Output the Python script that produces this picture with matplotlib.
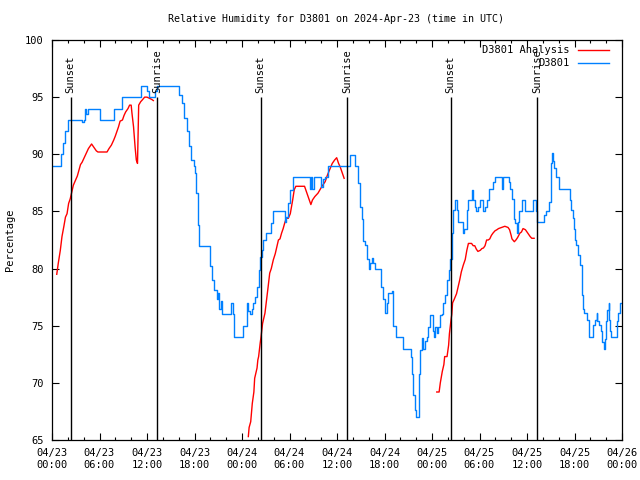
import numpy as np
import pandas as pd
import matplotlib
matplotlib.use("Agg")
import matplotlib.pyplot as plt
import matplotlib.dates as mdates

plt.rcParams['font.family'] = ['DejaVu Sans Mono']

start = pd.Timestamp("2024-04-23 00:00")

# observed RH at D3801, (hours since 04/23 00:00, percent)
obs_hours = [0.0, 0.9, 1.1, 1.4, 1.7, 2.0, 3.5, 3.8, 4.0, 4.2, 4.3, 4.5, 5.8, 6.0, 7.6, 7.8,
             8.6, 8.8, 11.1, 11.3, 11.8, 12.0, 12.2, 12.8, 13.0, 13.2, 15.8, 16.0, 16.4, 16.7,
             17.0, 17.3, 17.6, 17.9, 18.1, 18.2, 18.4, 18.6, 19.7, 20.0, 20.2, 20.5, 20.8, 21.0,
             21.1, 21.3, 21.5, 22.4, 22.6, 22.8, 23.0, 24.0, 24.1, 24.4, 24.6, 24.8, 25.0, 25.2,
             25.4, 25.6, 25.9, 26.1, 26.3, 26.5, 26.7, 27.0, 27.5, 27.7, 27.9, 29.2, 29.4, 29.6,
             29.8, 30.1, 30.5, 32.4, 32.6, 32.7, 32.9, 33.1, 33.8, 34.0, 34.2, 34.5, 34.9, 37.4,
             37.6, 38.0, 38.3, 38.7, 38.9, 39.1, 39.3, 39.5, 39.8, 40.0, 40.2, 40.4, 40.6, 40.8,
             41.4, 41.6, 41.8, 42.1, 42.3, 42.5, 42.9, 43.1, 43.5, 44.2, 44.3, 45.2, 45.4, 45.5,
             45.6, 45.9, 46.0, 46.2, 46.3, 46.4, 46.5, 46.7, 46.9, 47.1, 47.4, 47.5, 47.7, 48.0,
             48.1, 48.2, 48.4, 48.6, 48.8, 49.0, 49.2, 49.4, 49.6, 49.9, 50.1, 50.3, 50.5, 50.7,
             50.9, 51.1, 51.3, 51.7, 51.9, 52.1, 52.4, 52.6, 53.0, 53.2, 53.4, 53.6, 53.8, 54.1,
             54.3, 54.5, 54.7, 55.0, 55.2, 55.4, 55.7, 55.9, 56.6, 56.8, 57.0, 57.6, 57.7, 57.9,
             58.1, 58.3, 58.5, 58.7, 58.8, 59.0, 59.2, 59.4, 59.6, 59.7, 60.6, 60.7, 61.0, 61.1,
             61.2, 62.1, 62.2, 62.4, 62.7, 62.8, 63.0, 63.05, 63.1, 63.25, 63.4, 63.6, 63.7, 63.9,
             64.0, 65.2, 65.4, 65.6, 65.8, 65.9, 66.1, 66.2, 66.4, 66.5, 66.7, 66.9, 67.0, 67.1,
             67.2, 67.5, 67.6, 67.8, 68.3, 68.4, 68.6, 68.8, 68.9, 69.1, 69.3, 69.5, 69.7, 69.8,
             70.0, 70.1, 70.3, 70.4, 70.5, 70.6, 71.3, 71.4, 71.5, 71.7, 72.0]
obs_rh = [89.0, 89.0, 90.0, 91.0, 92.0, 93.0, 93.0, 92.8, 93.0, 94.0, 93.5, 94.0, 94.0, 93.0, 93.0, 94.0,
          94.0, 95.0, 95.0, 96.0, 96.0, 95.5, 95.0, 95.0, 95.5, 96.0, 96.0, 95.2, 94.5, 93.2,
          92.0, 90.7, 89.5, 89.0, 88.4, 86.6, 83.8, 82.0, 82.0, 80.2, 79.0, 78.1, 77.3, 77.9,
          76.5, 77.2, 76.0, 76.0, 77.0, 76.0, 74.0, 74.0, 75.0, 75.0, 77.0, 76.3, 76.0, 76.5,
          77.0, 77.5, 78.4, 79.9, 81.0, 81.6, 82.5, 83.1, 83.1, 84.0, 85.0, 85.0, 84.1, 84.5,
          85.7, 86.9, 88.0, 88.0, 87.0, 88.0, 87.0, 88.0, 88.0, 87.1, 87.8, 88.0, 89.0, 89.0,
          89.9, 89.9, 89.0, 87.5, 85.4, 84.3, 82.4, 82.1, 80.8, 80.0, 80.5, 80.9, 80.5, 80.0,
          80.0, 78.4, 77.3, 76.1, 77.0, 77.9, 78.0, 75.0, 74.0, 74.0, 73.0, 73.0, 72.3, 70.8,
          68.9, 67.6, 67.0, 67.0, 68.9, 70.8, 72.9, 73.9, 73.0, 73.7, 74.0, 74.9, 75.9, 75.9,
          74.5, 74.0, 74.9, 74.4, 74.9, 75.9, 76.0, 77.0, 77.7, 79.0, 79.9, 80.8, 83.1, 85.1,
          86.0, 85.1, 84.1, 84.1, 83.1, 83.5, 85.1, 86.0, 86.9, 86.0, 85.4, 85.0, 85.4, 86.0,
          86.0, 85.0, 85.4, 86.0, 87.0, 87.0, 87.6, 88.0, 88.0, 87.0, 88.0, 88.0, 87.6, 87.0,
          86.1, 84.3, 84.0, 83.1, 84.1, 85.0, 85.0, 86.0, 86.0, 85.0, 85.0, 86.0, 86.0, 85.0,
          84.1, 84.1, 84.7, 85.0, 85.0, 85.8, 87.6, 89.2, 90.1, 89.4, 88.8, 88.4, 88.0, 88.0,
          87.0, 87.0, 86.0, 85.1, 84.4, 83.5, 82.5, 82.1, 82.1, 81.2, 80.3, 78.7, 77.7, 76.5,
          76.1, 76.1, 75.5, 74.0, 74.0, 75.1, 75.5, 76.1, 75.4, 75.1, 74.5, 73.6, 73.0, 73.8,
          75.4, 76.4, 77.0, 75.5, 74.5, 74.0, 74.0, 75.4, 76.1, 77.0, 77.0]

# analysis RH, three night-time runs
ana_hours_1 = [0.6, 0.8, 1.05, 1.26, 1.5, 1.7, 1.9, 2.1, 2.3, 2.5, 2.7, 2.95, 3.2, 3.4, 3.6, 3.8,
               4.0, 4.2, 4.4, 4.6, 5.0, 5.3, 5.6, 5.8, 6.95, 7.2, 7.5, 7.8, 8.0, 8.2, 8.4, 8.6,
               8.9, 9.1, 9.3, 9.6, 9.8, 10.0, 10.1, 10.3, 10.5, 10.65, 10.8, 10.95, 11.2, 11.4,
               11.7, 12.0, 12.3, 12.6, 12.8]
ana_rh_1 = [79.5, 80.5, 81.6, 82.8, 83.7, 84.5, 84.8, 85.7, 86.1, 86.7, 87.3, 87.7, 88.1, 88.6, 89.1, 89.3,
            89.6, 89.9, 90.2, 90.5, 90.9, 90.6, 90.3, 90.2, 90.2, 90.5, 90.8, 91.25, 91.6, 92.0, 92.4, 92.9,
            93.0, 93.4, 93.7, 94.0, 94.3, 94.3, 93.6, 92.4, 90.6, 89.5, 89.2, 94.3, 94.6, 94.75,
            95.0, 95.0, 94.9, 94.8, 94.7]
ana_hours_2 = [24.8, 24.9, 25.1, 25.3, 25.5, 25.6, 25.8, 25.9, 26.0, 26.1, 26.3, 26.4, 26.6, 26.9,
               27.1, 27.3, 27.5, 27.7, 27.95, 28.2, 28.4, 28.6, 28.8, 29.0, 29.2, 29.4, 29.6, 29.85,
               30.1, 30.2, 30.4, 30.6, 30.8, 31.9, 32.2, 32.5, 32.7, 32.9, 33.2, 33.6, 33.85, 34.1,
               34.5, 34.8, 35.1, 35.4, 35.7, 35.96, 36.2, 36.4, 36.7, 36.9]
ana_rh_2 = [65.3, 66.1, 66.6, 68.2, 69.2, 70.4, 71.0, 71.3, 72.0, 72.3, 73.5, 74.0, 75.2, 76.1,
            77.25, 78.4, 79.6, 80.0, 80.75, 81.3, 81.9, 82.5, 82.6, 83.1, 83.5, 84.0, 84.4, 84.4,
            84.8, 85.2, 86.0, 86.9, 87.2, 87.2, 86.6, 86.0, 85.6, 86.0, 86.3, 86.6, 86.9, 87.2,
            87.6, 88.2, 88.7, 89.2, 89.5, 89.7, 89.2, 88.9, 88.3, 87.9]
ana_hours_3 = [48.6, 48.9, 49.05, 49.3, 49.5, 49.6, 49.9, 50.1, 50.2, 50.4, 50.5, 50.6, 50.8, 51.1,
               51.3, 51.5, 51.7, 51.95, 52.2, 52.4, 52.6, 53.0, 53.2, 53.4, 53.6, 53.8, 54.1, 54.3,
               54.5, 54.7, 54.9, 55.1, 55.3, 55.5, 55.7, 55.95, 56.2, 56.4, 56.8, 57.2, 57.6, 57.8,
               58.0, 58.1, 58.4, 58.6, 58.8, 59.1, 59.3, 59.5, 59.8, 60.1, 60.4, 60.6, 60.9]
ana_rh_3 = [69.2, 69.2, 70.0, 71.0, 71.6, 72.3, 72.3, 73.3, 74.3, 75.5, 76.0, 77.0, 77.3, 77.8,
            78.4, 79.0, 79.7, 80.3, 80.8, 81.6, 82.2, 82.2, 82.0, 82.0, 81.7, 81.5, 81.6, 81.75,
            81.8, 82.0, 82.5, 82.5, 82.6, 82.9, 83.1, 83.3, 83.4, 83.5, 83.6, 83.7, 83.6, 83.4,
            82.9, 82.6, 82.35, 82.5, 82.7, 83.1, 83.2, 83.5, 83.4, 83.1, 82.8, 82.65, 82.65]

sun_hours = [2.35, 13.27, 26.35, 37.27, 50.35, 61.27]
sun_labels = ["Sunset", "Sunrise", "Sunset", "Sunrise", "Sunset", "Sunrise"]


def toDates(hours):
    return start + pd.to_timedelta(hours, unit="h")


fig = plt.figure(figsize=(6.4, 4.8), dpi=100)
ax = fig.add_axes([52 / 640, 40 / 480, 570 / 640, 400 / 480])

# analysis first so it sits under the obs in the legend order
segs = [(ana_hours_1, ana_rh_1), (ana_hours_2, ana_rh_2), (ana_hours_3, ana_rh_3)]
for i, (h, v) in enumerate(segs):
    ax.plot(toDates(h), v, color="red", lw=1.0, label="D3801 Analysis" if i == 0 else None)
ax.plot(toDates(obs_hours), obs_rh, color="#0080ff", lw=1.0, drawstyle="steps-post", label="D3801")

sun_dates = toDates(sun_hours)
ax.vlines(sun_dates, 65, 95, color="black", lw=1.0)
for d, lab in zip(sun_dates, sun_labels):
    ax.text(d, 95.4, lab, rotation=90, ha="center", va="bottom", fontsize=7.5)

ax.set_xlim(start, start + pd.Timedelta(hours=72))
ax.set_ylim(65, 100)
ax.set_yticks(np.arange(65, 101, 5))
ax.xaxis.set_major_locator(mdates.HourLocator(byhour=range(0, 24, 6)))
ax.xaxis.set_minor_locator(mdates.HourLocator(byhour=range(0, 24, 2)))
ax.xaxis.set_major_formatter(mdates.DateFormatter("%m/%d\n%H:%M"))
ax.tick_params(which="major", direction="in", top=True, right=True, length=5, width=0.8,
               labelsize=7.5, pad=6)
ax.tick_params(which="minor", direction="in", top=True, right=True, length=2.5, width=0.8)
for s in ax.spines.values():
    s.set_linewidth(0.9)

fig.text(0.525, 1 - 19 / 480, "Relative Humidity for D3801 on 2024-Apr-23 (time in UTC)",
         ha="center", va="center", fontsize=7.2)
fig.text(10 / 640, 0.5, "Percentage", rotation=90, ha="center", va="center", fontsize=7.5)

ax.legend(loc="upper right", bbox_to_anchor=(0.99, 1.005), frameon=False, markerfirst=False,
          fontsize=7.5, handlelength=3.0, borderaxespad=0.3, labelspacing=0.3)

fig.savefig("out.png", dpi=100)
